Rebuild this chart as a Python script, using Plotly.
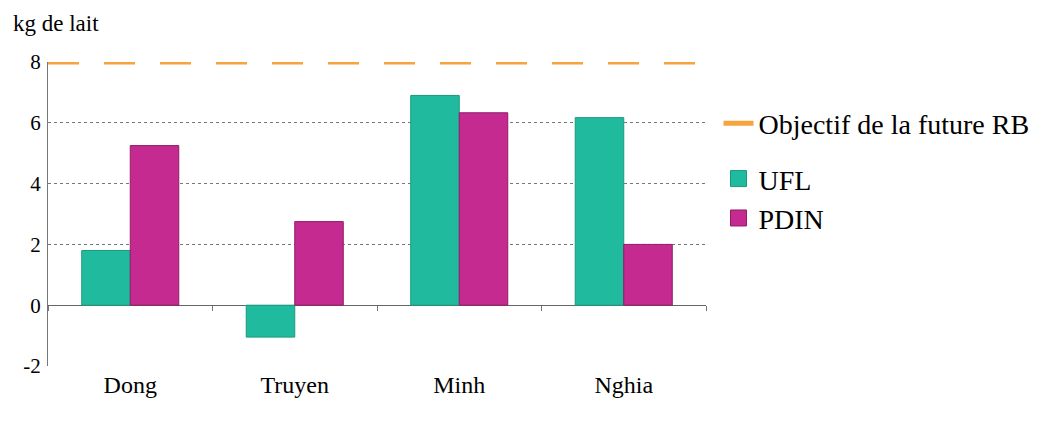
import plotly.graph_objects as go

categories = ["Dong", "Truyen", "Minh", "Nghia"]
ufl = [1.8, -1.05, 6.9, 6.17]
pdin = [5.25, 2.75, 6.33, 2.0]
objective = 8
y_ticks = [-2, 0, 2, 4, 6, 8]
y_title = "kg de lait"
names = ["Objectif de la future RB", "UFL", "PDIN"]

FONT = "Liberation Serif, Times New Roman, serif"
ORANGE = "#F5A43F"
TEAL = "#20BB9E"
MAGENTA = "#C42A90"

fig = go.Figure()

# bars
fig.add_trace(go.Bar(
    x=categories, y=ufl, name=names[1], showlegend=False,
    marker=dict(color=TEAL, line=dict(color="#1a9a7c", width=1)),
))
fig.add_trace(go.Bar(
    x=categories, y=pdin, name=names[2], showlegend=False,
    marker=dict(color=MAGENTA, line=dict(color="#8e1d68", width=1)),
))
# invisible trace on xaxis2 so its tick marks show at the zero line
fig.add_trace(go.Scatter(x=categories, y=[0] * len(categories), xaxis="x2", showlegend=False,
                         hoverinfo="skip", mode="markers", marker=dict(opacity=0)))

# legend entries
fig.add_trace(go.Scatter(
    x=[None], y=[None], mode="lines", name=names[0],
    line=dict(color=ORANGE, width=5), legendgroup="a", legendrank=1,
))
fig.add_trace(go.Scatter(
    x=[None], y=[None], mode="markers", name=names[1], legendgroup="b", legendrank=2,
    marker=dict(symbol="square", size=16, color=TEAL, line=dict(color="#1a9a7c", width=1)),
))
fig.add_trace(go.Scatter(
    x=[None], y=[None], mode="markers", name=names[2], legendgroup="b", legendrank=3,
    marker=dict(symbol="square", size=16, color=MAGENTA, line=dict(color="#8e1d68", width=1)),
))

# objective line across the whole plot area
fig.add_shape(
    type="line", xref="paper", x0=0, x1=1, yref="y", y0=objective, y1=objective,
    line=dict(color=ORANGE, width=5, dash="31px,25px"), layer="above",
)

fig.update_layout(
    width=1043, height=415,
    margin=dict(l=40, r=345, t=54, b=57),
    paper_bgcolor="white", plot_bgcolor="white",
    font=dict(family=FONT, size=20, color="black"),
    barmode="group", bargap=0.41, bargroupgap=0,
    showlegend=True,
    legend=dict(
        x=1.019, y=0.88, xanchor="left", yanchor="top",
        font=dict(family=FONT, size=28), traceorder="grouped",
        tracegroupgap=16, itemwidth=30, itemsizing="trace",
    ),
    xaxis=dict(
        type="category", categoryorder="array", categoryarray=categories,
        range=[-0.5, len(categories) - 0.5],
        showline=False, showgrid=False, ticks="", zeroline=False,
        tickfont=dict(family=FONT, size=24), ticklabelstandoff=2,
    ),
    xaxis2=dict(
        type="category", categoryorder="array", categoryarray=categories,
        range=[-0.5, len(categories) - 0.5],
        overlaying="x", anchor="free", position=0.2,
        showticklabels=False, ticks="outside", ticklen=5, tickcolor="#777",
        tickson="boundaries", showgrid=False, showline=False, zeroline=False,
    ),
    yaxis=dict(
        range=[-2, 8], tickvals=y_ticks, ticktext=[str(v) for v in y_ticks],
        showline=True, linecolor="#777", linewidth=1,
        showgrid=True, gridcolor="#777", gridwidth=1, griddash="3px,3px",
        zeroline=True, zerolinecolor="#666", zerolinewidth=1,
        ticks="", tickfont=dict(family=FONT, size=21), ticklabelstandoff=2,
    ),
    annotations=[dict(
        text=y_title, xref="paper", yref="paper", x=0, y=1, xanchor="left", yanchor="bottom",
        xshift=-37, yshift=24, showarrow=False, font=dict(family=FONT, size=23),
    )],
)

fig.write_html("out.html")
